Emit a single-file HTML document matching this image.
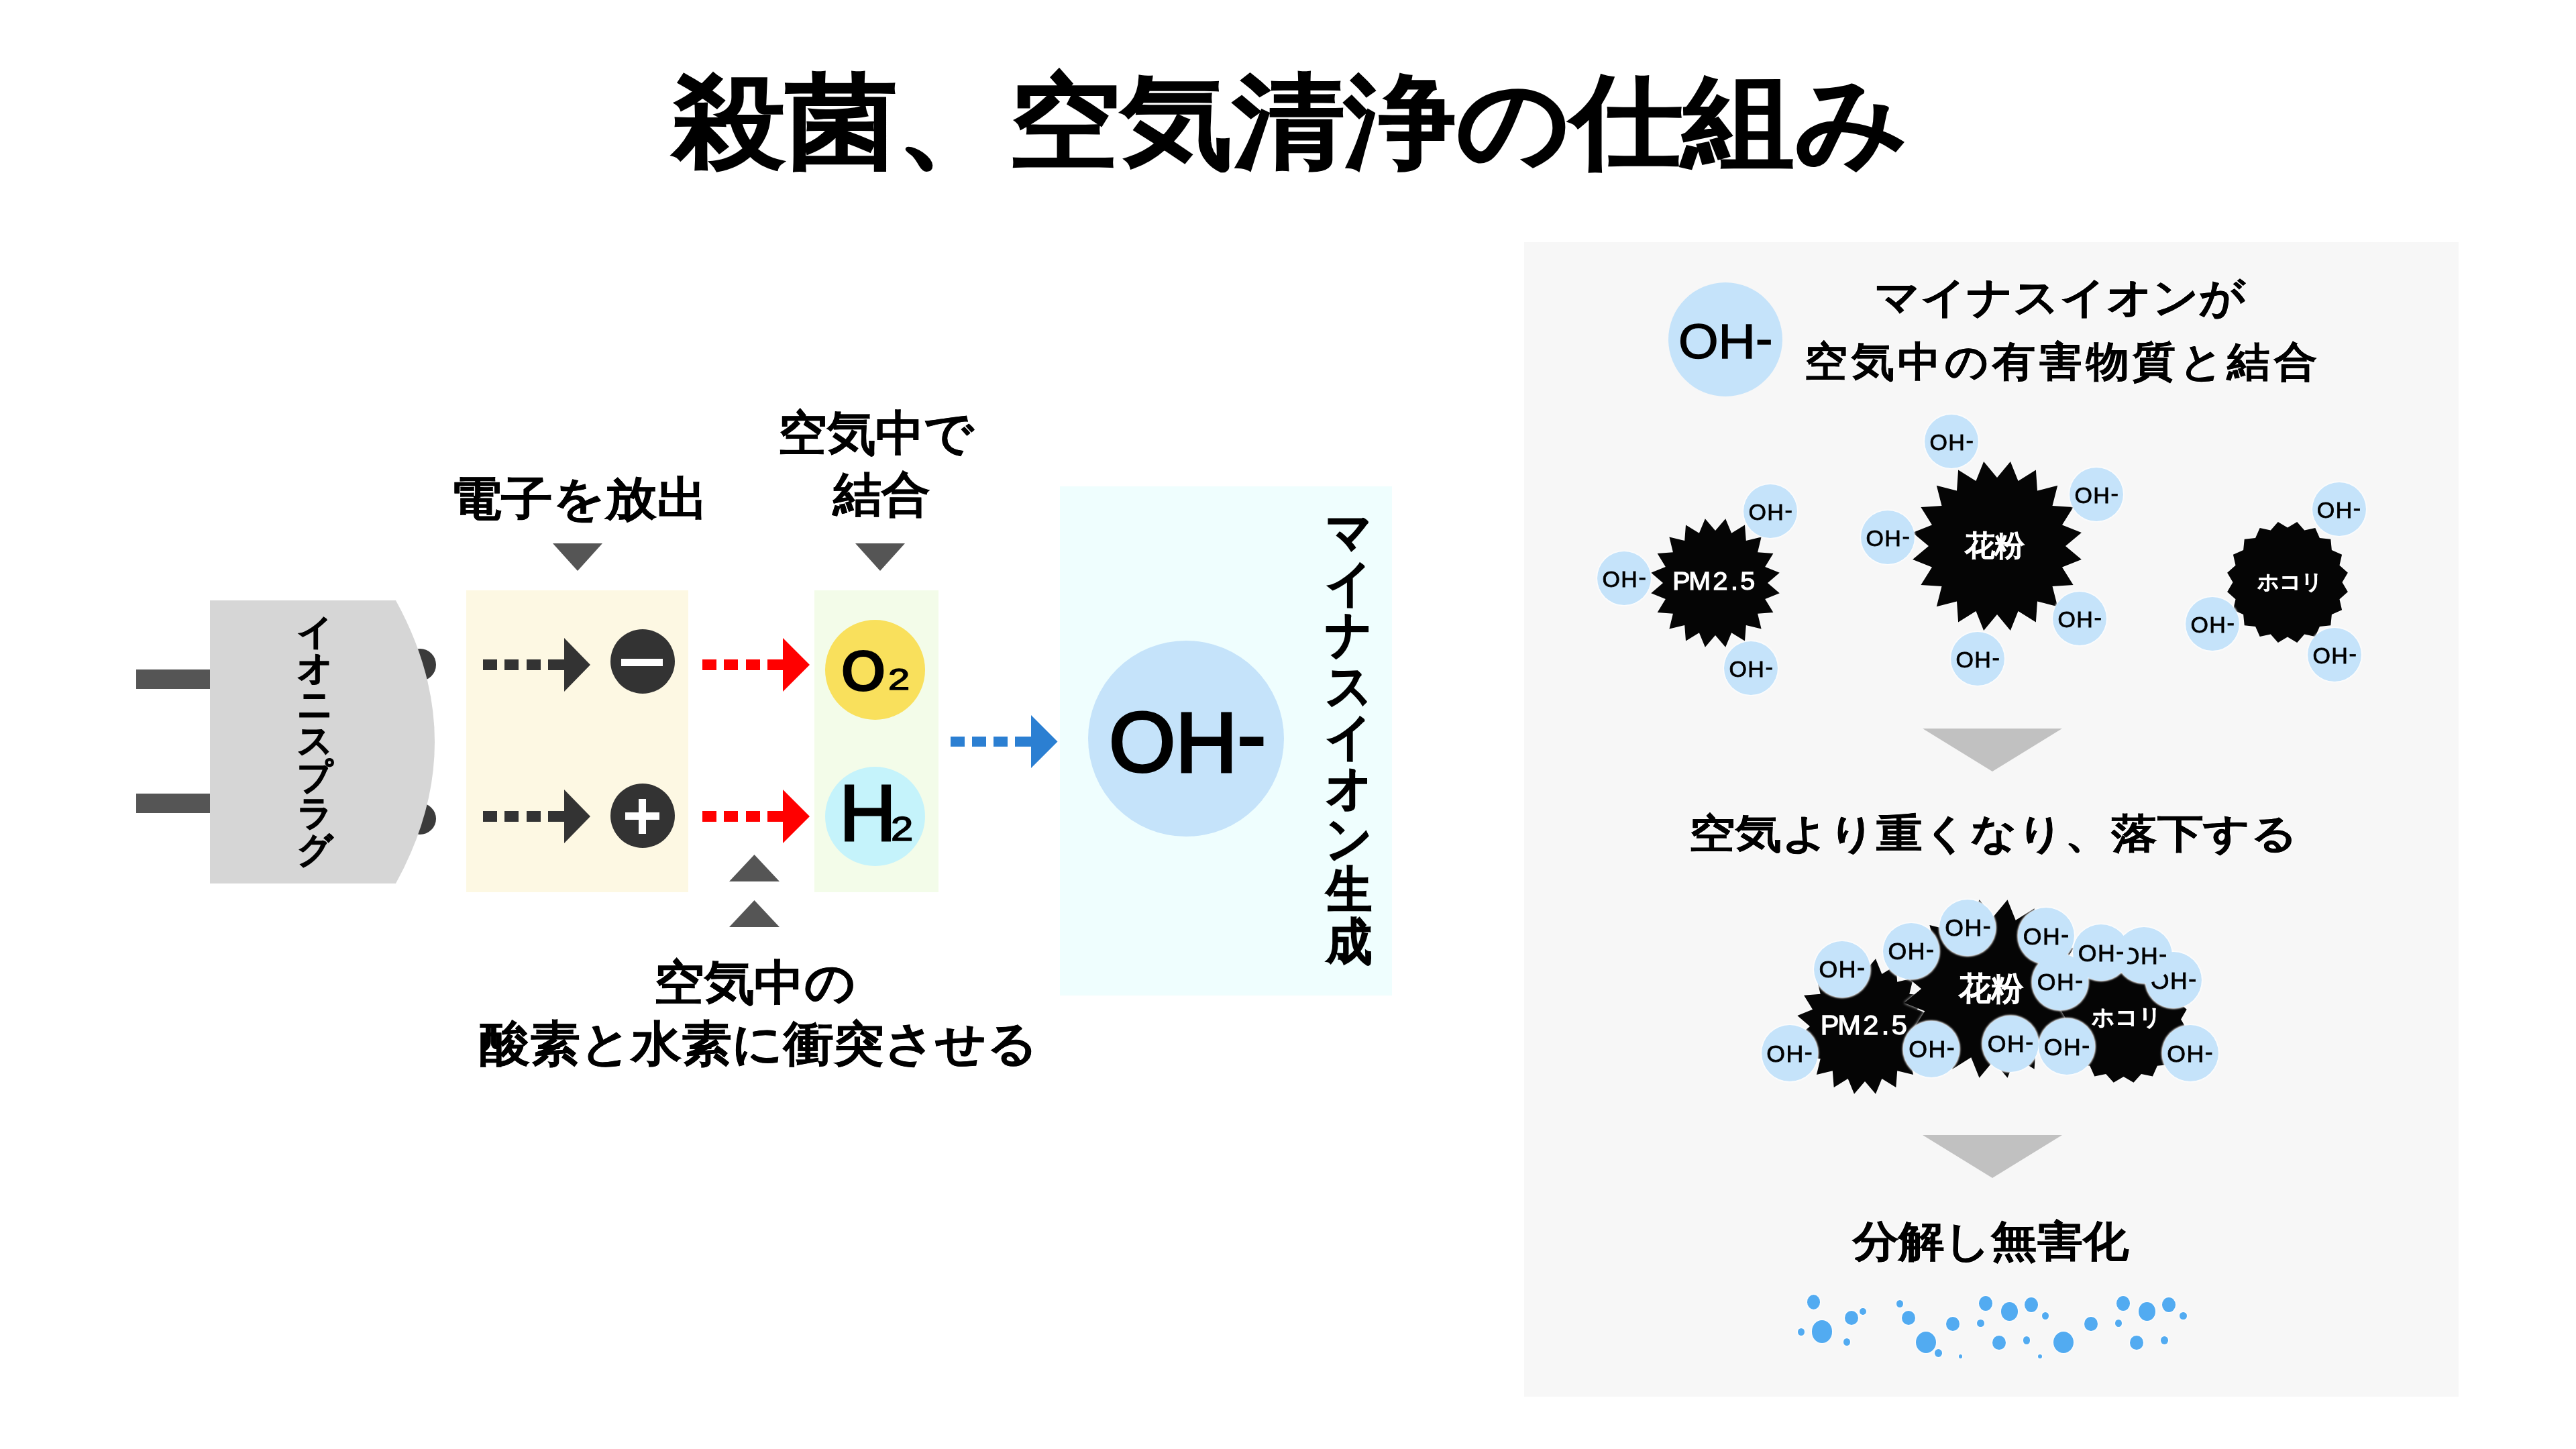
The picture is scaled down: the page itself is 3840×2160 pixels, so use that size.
<!DOCTYPE html><html lang="ja"><head><meta charset="utf-8"><title>殺菌、空気清浄の仕組み</title><style>
*{margin:0;padding:0;box-sizing:border-box}
html,body{width:3840px;height:2160px;overflow:hidden;background:#fff}
body{position:relative;font-family:"Liberation Sans",sans-serif;color:#000}
.a{position:absolute}
.t{position:absolute;white-space:nowrap;line-height:1;font-weight:bold;transform-origin:0 0}
.c{text-align:center}
.b{-webkit-text-stroke:2px #000}
.b1{-webkit-text-stroke:0.5px #000}
.m{-webkit-text-stroke:0.6px #000}
.gl{text-shadow:0 0 4px #fff,0 0 4px #fff}
.v{white-space:normal;word-break:break-all}
</style></head><body>
<div id="title" class="t b gl" style="left:1004.0px;top:104.5px;transform:scale(0.9924,0.9075);font-size:168px">殺菌、空気清浄の仕組み</div>
<div class="a" style="left:203px;top:998px;width:112px;height:29px;background:#555"></div>
<div class="a" style="left:203px;top:1183px;width:112px;height:29px;background:#555"></div>
<div class="a" style="left:602px;top:967px;width:48px;height:48px;border-radius:50%;background:#3b3b3b"></div>
<div class="a" style="left:602px;top:1197px;width:48px;height:47px;border-radius:50%;background:#3b3b3b"></div>
<svg class="a" style="left:0;top:0" width="700" height="1400" viewBox="0 0 700 1400"><path d="M313 895 L590 895 Q706 1106 590 1317 L313 1317 Z" fill="#d6d6d6"/></svg>
<div id="plug" class="t c v" style="left:442.3px;top:914.7px;transform:scale(1.0004,1.0164);width:54px;font-size:52px;line-height:53.3px;-webkit-text-stroke:1.2px #000">イオニスプラグ</div>
<div class="a" style="left:695px;top:880px;width:331px;height:450px;background:#fdf8e3"></div>
<div class="a" style="left:1214px;top:880px;width:185px;height:450px;background:#f3fce9"></div>
<div class="a" style="left:1580px;top:725px;width:495px;height:759px;background:#effefe"></div>
<div class="a" style="left:720.0px;top:983.0px;width:21.0px;height:16px;background:#333"></div><div class="a" style="left:752.3px;top:983.0px;width:21.0px;height:16px;background:#333"></div><div class="a" style="left:784.6px;top:983.0px;width:21.0px;height:16px;background:#333"></div><div class="a" style="left:816.9px;top:983.0px;width:25.1px;height:16px;background:#333"></div><svg class="a" style="left:841.0px;top:951.0px" width="39.0" height="80.0"><polygon points="0,0 39.0,40.0 0,80.0" fill="#333"/></svg>
<div class="a" style="left:720.0px;top:1209.0px;width:21.0px;height:16px;background:#333"></div><div class="a" style="left:752.3px;top:1209.0px;width:21.0px;height:16px;background:#333"></div><div class="a" style="left:784.6px;top:1209.0px;width:21.0px;height:16px;background:#333"></div><div class="a" style="left:816.9px;top:1209.0px;width:25.1px;height:16px;background:#333"></div><svg class="a" style="left:841.0px;top:1177.0px" width="39.0" height="80.0"><polygon points="0,0 39.0,40.0 0,80.0" fill="#333"/></svg>
<div class="a" style="left:1047.0px;top:983.0px;width:21.0px;height:16px;background:#f00"></div><div class="a" style="left:1079.3px;top:983.0px;width:21.0px;height:16px;background:#f00"></div><div class="a" style="left:1111.6px;top:983.0px;width:21.0px;height:16px;background:#f00"></div><div class="a" style="left:1143.9px;top:983.0px;width:24.1px;height:16px;background:#f00"></div><svg class="a" style="left:1167.0px;top:951.0px" width="40.0" height="80.0"><polygon points="0,0 40.0,40.0 0,80.0" fill="#f00"/></svg>
<div class="a" style="left:1047.0px;top:1209.0px;width:21.0px;height:16px;background:#f00"></div><div class="a" style="left:1079.3px;top:1209.0px;width:21.0px;height:16px;background:#f00"></div><div class="a" style="left:1111.6px;top:1209.0px;width:21.0px;height:16px;background:#f00"></div><div class="a" style="left:1143.9px;top:1209.0px;width:24.1px;height:16px;background:#f00"></div><svg class="a" style="left:1167.0px;top:1177.0px" width="40.0" height="80.0"><polygon points="0,0 40.0,40.0 0,80.0" fill="#f00"/></svg>
<div class="a" style="left:1416.5px;top:1097.5px;width:21.0px;height:15px;background:#2b7fd2"></div><div class="a" style="left:1448.6px;top:1097.5px;width:21.0px;height:15px;background:#2b7fd2"></div><div class="a" style="left:1480.7px;top:1097.5px;width:21.0px;height:15px;background:#2b7fd2"></div><div class="a" style="left:1512.8px;top:1097.5px;width:25.2px;height:15px;background:#2b7fd2"></div><svg class="a" style="left:1537.0px;top:1065.5px" width="39.5" height="79.0"><polygon points="0,0 39.5,39.5 0,79.0" fill="#2b7fd2"/></svg>
<div class="a" style="left:910px;top:938px;width:96px;height:96px;border-radius:50%;background:#333"></div>
<div class="a" style="left:926px;top:981.5px;width:62px;height:11.5px;background:#fff"></div>
<div class="a" style="left:910px;top:1168px;width:96px;height:96px;border-radius:50%;background:#333"></div>
<div class="a" style="left:932px;top:1211px;width:51px;height:11px;background:#fff"></div>
<div class="a" style="left:952px;top:1191px;width:10.5px;height:52px;background:#fff"></div>
<div class="a" style="left:1230px;top:924px;width:149px;height:149px;border-radius:50%;background:#f9e05c"></div>
<div class="a" style="left:1230px;top:1143px;width:149px;height:148px;border-radius:50%;background:#c5f3fb"></div>
<div id="o2o" class="t" style="left:1252.5px;top:956.4px;transform:scale(1.0387,1.0433);font-size:84px">O</div>
<div id="o2n" class="t" style="left:1324.4px;top:990.2px;transform:scale(1.2540,0.9706);font-size:46px;font-weight:normal;-webkit-text-stroke:1.5px #000">2</div>
<div id="h2h" class="t" style="left:1250.5px;top:1152.9px;transform:scale(1.0079,1.0113);font-size:117px;font-weight:normal;-webkit-text-stroke:3px #000">H</div>
<div id="h2n" class="t" style="left:1328.2px;top:1210.9px;transform:scale(1.1934,0.9998);font-size:50px;font-weight:normal;-webkit-text-stroke:1.5px #000">2</div>
<div class="a" style="left:1622px;top:955px;width:292px;height:292px;border-radius:50%;background:#c5e3fa"></div>
<div id="bigoh" class="t" style="left:1652.8px;top:1043.5px;transform:scale(1.0055,0.9937);font-size:127px;font-weight:normal;-webkit-text-stroke:4px #000">OH<span style="position:relative;top:-11px">-</span></div>
<div id="vert" class="t c v" style="left:1975.9px;top:754.7px;transform:scale(0.9465,1.0275);width:74px;font-size:72px;line-height:74.2px;-webkit-text-stroke:1.5px #000">マイナスイオン生成</div>
<div id="denshi" class="t c b1 gl" style="left:552.6px;top:709.9px;transform:scale(1.0335,0.9254);width:600px;font-size:74px">電子を放出</div>
<div id="kuki1" class="t c b1 gl" style="left:1012.6px;top:600.4px;transform:scale(0.9766,0.9541);width:600px;font-size:74px;line-height:96px">空気中で<br><span style="position:relative;left:8px">結合</span></div>
<div id="kuki2" class="t c b1 gl" style="left:715.2px;top:1418.8px;transform:scale(1.0110,0.9595);width:800px;font-size:74px;line-height:95px"><span style="position:relative;left:6px">空気中の</span><br>酸素と水素に衝突させる</div>
<svg class="a" style="left:824.0px;top:810.0px" width="74.0" height="41.0"><polygon points="0,0 74.0,0 37.0,41.0" fill="#555"/></svg>
<svg class="a" style="left:1275.0px;top:810.0px" width="74.0" height="41.0"><polygon points="0,0 74.0,0 37.0,41.0" fill="#555"/></svg>
<svg class="a" style="left:1086.5px;top:1274.0px" width="75.0" height="40.0"><polygon points="0,40.0 75.0,40.0 37.5,0" fill="#555"/></svg>
<svg class="a" style="left:1086.5px;top:1342.0px" width="75.0" height="40.0"><polygon points="0,40.0 75.0,40.0 37.5,0" fill="#555"/></svg>
<div class="a" style="left:2272px;top:361px;width:1393px;height:1721px;background:#f7f7f7"></div>
<div class="a" style="left:2487px;top:421px;width:170px;height:170px;border-radius:50%;background:#c5e3fa"></div>
<div id="smoh" class="t" style="left:2502.0px;top:474.1px;transform:scale(1.0077,0.9439);font-size:76px;font-weight:normal;-webkit-text-stroke:1.5px #000">OH<span style="position:relative;top:-6px">-</span></div>
<div id="pl1" class="t b1 gl" style="left:2793.7px;top:412.0px;transform:scale(0.9604,0.8972);font-size:70px">マイナスイオンが</div>
<div id="pl2" class="t b1 gl" style="left:2690.0px;top:508.2px;transform:scale(0.9160,0.8741);font-size:70px;letter-spacing:6px">空気中の有害物質と結合</div>
<svg class="a" style="left:2454px;top:766px;filter:drop-shadow(0 0 2px #fff)" width="206" height="206" viewBox="2454 766 206 206"><polygon points="2572.2,773.2 2581.1,794.8 2601.0,782.6 2602.8,805.9 2625.6,800.4 2620.1,823.2 2643.4,825.0 2631.2,844.9 2652.8,853.8 2635.0,869.0 2652.8,884.2 2631.2,893.1 2643.4,913.0 2620.1,914.8 2625.6,937.6 2602.8,932.1 2601.0,955.4 2581.1,943.2 2572.2,964.8 2557.0,947.0 2541.8,964.8 2532.9,943.2 2513.0,955.4 2511.2,932.1 2488.4,937.6 2493.9,914.8 2470.6,913.0 2482.8,893.1 2461.2,884.2 2479.0,869.0 2461.2,853.8 2482.8,844.9 2470.6,825.0 2493.9,823.2 2488.4,800.4 2511.2,805.9 2513.0,782.6 2532.9,794.8 2541.8,773.2 2557.0,791.0" fill="#050505"/></svg>
<div id="pm1" class="t c" style="left:2441.7px;top:847.3px;transform:scale(1.1267,1.0760);width:200px;font-size:35px;color:#fff;font-weight:normal;-webkit-text-stroke:1.2px #fff">P<span style="margin-left:-2px">M</span><span style="margin-left:3px">2</span><span style="margin-left:4px">.</span><span style="margin-left:3px">5</span></div>
<div class="a" style="left:0;top:0;width:3840px;height:2160px;filter:drop-shadow(0 0 1.5px #fff) drop-shadow(0 0 1px #fff)">
<div class="a" style="left:2599.0px;top:722.0px;width:80.0px;height:80.0px;border-radius:50%;background:#c5e3fa"></div><div class="t c" style="left:2599.8px;top:746.4px;width:80.0px;font-size:34.0px;font-weight:normal;line-height:34.0px;letter-spacing:1.5px;-webkit-text-stroke:0.8px #000">OH<span style="position:relative;top:-3px">-</span></div>
<div class="a" style="left:2381.0px;top:822.0px;width:80.0px;height:80.0px;border-radius:50%;background:#c5e3fa"></div><div class="t c" style="left:2381.8px;top:846.4px;width:80.0px;font-size:34.0px;font-weight:normal;line-height:34.0px;letter-spacing:1.5px;-webkit-text-stroke:0.8px #000">OH<span style="position:relative;top:-3px">-</span></div>
<div class="a" style="left:2570.0px;top:955.6px;width:80.0px;height:80.0px;border-radius:50%;background:#c5e3fa"></div><div class="t c" style="left:2570.8px;top:980.0px;width:80.0px;font-size:34.0px;font-weight:normal;line-height:34.0px;letter-spacing:1.5px;-webkit-text-stroke:0.8px #000">OH<span style="position:relative;top:-3px">-</span></div>
</div>
<svg class="a" style="left:2843px;top:680px;filter:drop-shadow(0 0 2px #fff)" width="267" height="267" viewBox="2843 680 267 267"><polygon points="2996.9,688.1 3008.5,717.0 3034.9,700.4 3037.0,731.5 3067.2,723.8 3059.5,754.0 3090.6,756.1 3074.0,782.5 3102.9,794.1 3079.0,814.0 3102.9,833.9 3074.0,845.5 3090.6,871.9 3059.5,874.0 3067.2,904.2 3037.0,896.5 3034.9,927.6 3008.5,911.0 2996.9,939.9 2977.0,916.0 2957.1,939.9 2945.5,911.0 2919.1,927.6 2917.0,896.5 2886.8,904.2 2894.5,874.0 2863.4,871.9 2880.0,845.5 2851.1,833.9 2875.0,814.0 2851.1,794.1 2880.0,782.5 2863.4,756.1 2894.5,754.0 2886.8,723.8 2917.0,731.5 2919.1,700.4 2945.5,717.0 2957.1,688.1 2977.0,712.0" fill="#050505"/></svg>
<div id="kf1" class="t c" style="left:2875.5px;top:792.3px;transform:scale(0.9746,0.9333);width:200px;font-size:46px;color:#fff;-webkit-text-stroke:0.5px #fff">花粉</div>
<div class="a" style="left:0;top:0;width:3840px;height:2160px;filter:drop-shadow(0 0 1.5px #fff) drop-shadow(0 0 1px #fff)">
<div class="a" style="left:2869.0px;top:618.0px;width:80.0px;height:80.0px;border-radius:50%;background:#c5e3fa"></div><div class="t c" style="left:2869.8px;top:642.4px;width:80.0px;font-size:34.0px;font-weight:normal;line-height:34.0px;letter-spacing:1.5px;-webkit-text-stroke:0.8px #000">OH<span style="position:relative;top:-3px">-</span></div>
<div class="a" style="left:3085.0px;top:697.0px;width:80.0px;height:80.0px;border-radius:50%;background:#c5e3fa"></div><div class="t c" style="left:3085.8px;top:721.4px;width:80.0px;font-size:34.0px;font-weight:normal;line-height:34.0px;letter-spacing:1.5px;-webkit-text-stroke:0.8px #000">OH<span style="position:relative;top:-3px">-</span></div>
<div class="a" style="left:2774.0px;top:761.0px;width:80.0px;height:80.0px;border-radius:50%;background:#c5e3fa"></div><div class="t c" style="left:2774.8px;top:785.4px;width:80.0px;font-size:34.0px;font-weight:normal;line-height:34.0px;letter-spacing:1.5px;-webkit-text-stroke:0.8px #000">OH<span style="position:relative;top:-3px">-</span></div>
<div class="a" style="left:3060.0px;top:882.0px;width:80.0px;height:80.0px;border-radius:50%;background:#c5e3fa"></div><div class="t c" style="left:3060.8px;top:906.4px;width:80.0px;font-size:34.0px;font-weight:normal;line-height:34.0px;letter-spacing:1.5px;-webkit-text-stroke:0.8px #000">OH<span style="position:relative;top:-3px">-</span></div>
<div class="a" style="left:2908.0px;top:942.0px;width:80.0px;height:80.0px;border-radius:50%;background:#c5e3fa"></div><div class="t c" style="left:2908.8px;top:966.4px;width:80.0px;font-size:34.0px;font-weight:normal;line-height:34.0px;letter-spacing:1.5px;-webkit-text-stroke:0.8px #000">OH<span style="position:relative;top:-3px">-</span></div>
</div>
<svg class="a" style="left:3313px;top:771px;filter:drop-shadow(0 0 2px #fff)" width="194" height="194" viewBox="3313 771 194 194"><polygon points="3424.2,778.1 3435.2,790.5 3451.3,786.9 3457.9,802.1 3474.3,803.7 3475.9,820.1 3491.1,826.7 3487.5,842.8 3499.9,853.8 3491.5,868.0 3499.9,882.2 3487.5,893.2 3491.1,909.3 3475.9,915.9 3474.3,932.3 3457.9,933.9 3451.3,949.1 3435.2,945.5 3424.2,957.9 3410.0,949.5 3395.8,957.9 3384.8,945.5 3368.7,949.1 3362.1,933.9 3345.7,932.3 3344.1,915.9 3328.9,909.3 3332.5,893.2 3320.1,882.2 3328.5,868.0 3320.1,853.8 3332.5,842.8 3328.9,826.7 3344.1,820.1 3345.7,803.7 3362.1,802.1 3368.7,786.9 3384.8,790.5 3395.8,778.1 3410.0,786.5" fill="#050505"/></svg>
<div id="hk1" class="t c" style="left:3309.2px;top:851.5px;transform:scale(1.0511,1.0215);width:200px;font-size:30px;color:#fff;-webkit-text-stroke:0.5px #fff">ホコリ</div>
<div class="a" style="left:0;top:0;width:3840px;height:2160px;filter:drop-shadow(0 0 1.5px #fff) drop-shadow(0 0 1px #fff)">
<div class="a" style="left:3446.5px;top:718.5px;width:80.0px;height:80.0px;border-radius:50%;background:#c5e3fa"></div><div class="t c" style="left:3447.2px;top:742.9px;width:80.0px;font-size:34.0px;font-weight:normal;line-height:34.0px;letter-spacing:1.5px;-webkit-text-stroke:0.8px #000">OH<span style="position:relative;top:-3px">-</span></div>
<div class="a" style="left:3258.0px;top:889.6px;width:80.0px;height:80.0px;border-radius:50%;background:#c5e3fa"></div><div class="t c" style="left:3258.8px;top:914.0px;width:80.0px;font-size:34.0px;font-weight:normal;line-height:34.0px;letter-spacing:1.5px;-webkit-text-stroke:0.8px #000">OH<span style="position:relative;top:-3px">-</span></div>
<div class="a" style="left:3440.0px;top:936.0px;width:80.0px;height:80.0px;border-radius:50%;background:#c5e3fa"></div><div class="t c" style="left:3440.8px;top:960.4px;width:80.0px;font-size:34.0px;font-weight:normal;line-height:34.0px;letter-spacing:1.5px;-webkit-text-stroke:0.8px #000">OH<span style="position:relative;top:-3px">-</span></div>
</div>
<svg class="a" style="left:2866.0px;top:1086.0px" width="208.0" height="64.0"><polygon points="0,0 208.0,0 104.0,64.0" fill="#c1c1c1"/></svg>
<svg class="a" style="left:2866.0px;top:1692.0px" width="208.0" height="64.0"><polygon points="0,0 208.0,0 104.0,64.0" fill="#c1c1c1"/></svg>
<div id="rakka" class="t b1 gl" style="left:2518.0px;top:1211.5px;transform:scale(0.9825,0.8588);font-size:70px">空気より重くなり、落下する</div>
<div id="bunkai" class="t b1 gl" style="left:2762.1px;top:1819.1px;transform:scale(0.9738,0.8980);font-size:70px">分解し無害化</div>
<svg class="a" style="left:2672px;top:1422px;filter:drop-shadow(0 0 2px #fff)" width="216" height="216" viewBox="2672 1422 216 216"><polygon points="2796.0,1429.3 2805.3,1452.0 2826.3,1439.1 2828.2,1463.7 2852.1,1457.9 2846.3,1481.8 2870.9,1483.7 2858.0,1504.7 2880.7,1514.0 2862.0,1530.0 2880.7,1546.0 2858.0,1555.3 2870.9,1576.3 2846.3,1578.2 2852.1,1602.1 2828.2,1596.3 2826.3,1620.9 2805.3,1608.0 2796.0,1630.7 2780.0,1612.0 2764.0,1630.7 2754.7,1608.0 2733.7,1620.9 2731.8,1596.3 2707.9,1602.1 2713.7,1578.2 2689.1,1576.3 2702.0,1555.3 2679.3,1546.0 2698.0,1530.0 2679.3,1514.0 2702.0,1504.7 2689.1,1483.7 2713.7,1481.8 2707.9,1457.9 2731.8,1463.7 2733.7,1439.1 2754.7,1452.0 2764.0,1429.3 2780.0,1448.0" fill="#050505"/></svg>
<svg class="a" style="left:2831px;top:1333px;filter:drop-shadow(0 0 2px #fff)" width="281" height="281" viewBox="2831 1333 281 281"><polygon points="2992.5,1341.2 3004.7,1371.8 3032.6,1354.2 3034.7,1387.0 3066.6,1378.9 3058.5,1410.8 3091.3,1412.9 3073.7,1440.8 3104.3,1453.0 3079.0,1474.0 3104.3,1495.0 3073.7,1507.2 3091.3,1535.1 3058.5,1537.2 3066.6,1569.1 3034.7,1561.0 3032.6,1593.8 3004.7,1576.2 2992.5,1606.8 2971.5,1581.5 2950.5,1606.8 2938.3,1576.2 2910.4,1593.8 2908.3,1561.0 2876.4,1569.1 2884.5,1537.2 2851.7,1535.1 2869.3,1507.2 2838.7,1495.0 2864.0,1474.0 2838.7,1453.0 2869.3,1440.8 2851.7,1412.9 2884.5,1410.8 2876.4,1378.9 2908.3,1387.0 2910.4,1354.2 2938.3,1371.8 2950.5,1341.2 2971.5,1366.5" fill="#050505"/></svg>
<svg class="a" style="left:3064px;top:1418px;filter:drop-shadow(0 0 2px #fff)" width="202" height="202" viewBox="3064 1418 202 202"><polygon points="3180.5,1425.5 3192.0,1438.3 3208.9,1434.7 3215.9,1450.4 3233.0,1452.2 3234.8,1469.3 3250.5,1476.3 3246.9,1493.2 3259.7,1504.7 3251.1,1519.6 3259.7,1534.5 3246.9,1546.0 3250.5,1562.9 3234.8,1569.9 3233.0,1587.0 3215.9,1588.8 3208.9,1604.5 3192.0,1600.9 3180.5,1613.7 3165.6,1605.1 3150.7,1613.7 3139.2,1600.9 3122.3,1604.5 3115.3,1588.8 3098.2,1587.0 3096.4,1569.9 3080.7,1562.9 3084.3,1546.0 3071.5,1534.5 3080.1,1519.6 3071.5,1504.7 3084.3,1493.2 3080.7,1476.3 3096.4,1469.3 3098.2,1452.2 3115.3,1450.4 3122.3,1434.7 3139.2,1438.3 3150.7,1425.5 3165.6,1434.1" fill="#050505"/></svg>
<div id="pm2" class="t c" style="left:2665.5px;top:1508.6px;transform:scale(1.1224,1.0769);width:200px;font-size:37px;color:#fff;font-weight:normal;-webkit-text-stroke:1.2px #fff">P<span style="margin-left:-2px">M</span><span style="margin-left:3px">2</span><span style="margin-left:4px">.</span><span style="margin-left:3px">5</span></div>
<div id="kf2" class="t c" style="left:2867.8px;top:1450.0px;transform:scale(1.0003,0.9964);width:200px;font-size:48px;color:#fff;-webkit-text-stroke:0.5px #fff">花粉</div>
<div id="hk2" class="t c" style="left:3064.9px;top:1498.7px;transform:scale(1.0589,1.0753);width:200px;font-size:32px;color:#fff;-webkit-text-stroke:0.5px #fff">ホコリ</div>
<div class="a" style="left:0;top:0;width:3840px;height:2160px;filter:drop-shadow(0 0 1.5px #fff) drop-shadow(0 0 1px #fff)">
<div class="a" style="left:2625.5px;top:1528.0px;width:84.0px;height:84.0px;border-radius:50%;background:#c5e3fa"></div><div class="t c" style="left:2626.2px;top:1553.6px;width:84.0px;font-size:35.7px;font-weight:normal;line-height:35.7px;letter-spacing:1.5px;-webkit-text-stroke:0.8px #000">OH<span style="position:relative;top:-3px">-</span></div>
<div class="a" style="left:2703.7px;top:1402.6px;width:84.0px;height:84.0px;border-radius:50%;background:#c5e3fa"></div><div class="t c" style="left:2704.4px;top:1428.2px;width:84.0px;font-size:35.7px;font-weight:normal;line-height:35.7px;letter-spacing:1.5px;-webkit-text-stroke:0.8px #000">OH<span style="position:relative;top:-3px">-</span></div>
<div class="a" style="left:2806.7px;top:1375.5px;width:84.0px;height:84.0px;border-radius:50%;background:#c5e3fa"></div><div class="t c" style="left:2807.4px;top:1401.1px;width:84.0px;font-size:35.7px;font-weight:normal;line-height:35.7px;letter-spacing:1.5px;-webkit-text-stroke:0.8px #000">OH<span style="position:relative;top:-3px">-</span></div>
<div class="a" style="left:2891.4px;top:1340.5px;width:84.0px;height:84.0px;border-radius:50%;background:#c5e3fa"></div><div class="t c" style="left:2892.2px;top:1366.1px;width:84.0px;font-size:35.7px;font-weight:normal;line-height:35.7px;letter-spacing:1.5px;-webkit-text-stroke:0.8px #000">OH<span style="position:relative;top:-3px">-</span></div>
<div class="a" style="left:2837.4px;top:1521.7px;width:84.0px;height:84.0px;border-radius:50%;background:#c5e3fa"></div><div class="t c" style="left:2838.2px;top:1547.3px;width:84.0px;font-size:35.7px;font-weight:normal;line-height:35.7px;letter-spacing:1.5px;-webkit-text-stroke:0.8px #000">OH<span style="position:relative;top:-3px">-</span></div>
<div class="a" style="left:3008.0px;top:1353.0px;width:84.0px;height:84.0px;border-radius:50%;background:#c5e3fa"></div><div class="t c" style="left:3008.8px;top:1378.6px;width:84.0px;font-size:35.7px;font-weight:normal;line-height:35.7px;letter-spacing:1.5px;-webkit-text-stroke:0.8px #000">OH<span style="position:relative;top:-3px">-</span></div>
<div class="a" style="left:3198.0px;top:1419.0px;width:84.0px;height:84.0px;border-radius:50%;background:#c5e3fa"></div><div class="t c" style="left:3198.8px;top:1444.6px;width:84.0px;font-size:35.7px;font-weight:normal;line-height:35.7px;letter-spacing:1.5px;-webkit-text-stroke:0.8px #000">OH<span style="position:relative;top:-3px">-</span></div>
<div class="a" style="left:3154.0px;top:1382.0px;width:84.0px;height:84.0px;border-radius:50%;background:#c5e3fa"></div><div class="t c" style="left:3154.8px;top:1407.6px;width:84.0px;font-size:35.7px;font-weight:normal;line-height:35.7px;letter-spacing:1.5px;-webkit-text-stroke:0.8px #000">OH<span style="position:relative;top:-3px">-</span></div>
<div class="a" style="left:3090.0px;top:1378.0px;width:84.0px;height:84.0px;border-radius:50%;background:#c5e3fa"></div><div class="t c" style="left:3090.8px;top:1403.6px;width:84.0px;font-size:35.7px;font-weight:normal;line-height:35.7px;letter-spacing:1.5px;-webkit-text-stroke:0.8px #000">OH<span style="position:relative;top:-3px">-</span></div>
<div class="a" style="left:3029.0px;top:1421.5px;width:84.0px;height:84.0px;border-radius:50%;background:#c5e3fa"></div><div class="t c" style="left:3029.8px;top:1447.1px;width:84.0px;font-size:35.7px;font-weight:normal;line-height:35.7px;letter-spacing:1.5px;-webkit-text-stroke:0.8px #000">OH<span style="position:relative;top:-3px">-</span></div>
<div class="a" style="left:2955.0px;top:1513.5px;width:84.0px;height:84.0px;border-radius:50%;background:#c5e3fa"></div><div class="t c" style="left:2955.8px;top:1539.1px;width:84.0px;font-size:35.7px;font-weight:normal;line-height:35.7px;letter-spacing:1.5px;-webkit-text-stroke:0.8px #000">OH<span style="position:relative;top:-3px">-</span></div>
<div class="a" style="left:3039.0px;top:1518.0px;width:84.0px;height:84.0px;border-radius:50%;background:#c5e3fa"></div><div class="t c" style="left:3039.8px;top:1543.6px;width:84.0px;font-size:35.7px;font-weight:normal;line-height:35.7px;letter-spacing:1.5px;-webkit-text-stroke:0.8px #000">OH<span style="position:relative;top:-3px">-</span></div>
<div class="a" style="left:3222.6px;top:1528.0px;width:84.0px;height:84.0px;border-radius:50%;background:#c5e3fa"></div><div class="t c" style="left:3223.3px;top:1553.6px;width:84.0px;font-size:35.7px;font-weight:normal;line-height:35.7px;letter-spacing:1.5px;-webkit-text-stroke:0.8px #000">OH<span style="position:relative;top:-3px">-</span></div>
</div>
<div class="a" style="left:2694.0px;top:1930.1px;width:19.3px;height:21.7px;border-radius:50%;background:#52abf1;box-shadow:0 0 2px 1px #fff"></div>
<div class="a" style="left:2700.7px;top:1968.0px;width:30.4px;height:33.5px;border-radius:50%;background:#52abf1;box-shadow:0 0 2px 1px #fff"></div>
<div class="a" style="left:2679.8px;top:1979.7px;width:10.0px;height:11.0px;border-radius:50%;background:#52abf1;box-shadow:0 0 2px 1px #fff"></div>
<div class="a" style="left:2750.0px;top:1954.0px;width:20.0px;height:21.0px;border-radius:50%;background:#52abf1;box-shadow:0 0 2px 1px #fff"></div>
<div class="a" style="left:2772.4px;top:1949.5px;width:10.0px;height:10.5px;border-radius:50%;background:#52abf1;box-shadow:0 0 2px 1px #fff"></div>
<div class="a" style="left:2747.9px;top:1995.0px;width:10.5px;height:11.0px;border-radius:50%;background:#52abf1;box-shadow:0 0 2px 1px #fff"></div>
<div class="a" style="left:2826.7px;top:1938.4px;width:10.0px;height:11.0px;border-radius:50%;background:#52abf1;box-shadow:0 0 2px 1px #fff"></div>
<div class="a" style="left:2834.8px;top:1954.0px;width:20.0px;height:21.0px;border-radius:50%;background:#52abf1;box-shadow:0 0 2px 1px #fff"></div>
<div class="a" style="left:2855.8px;top:1984.5px;width:30.0px;height:32.0px;border-radius:50%;background:#52abf1;box-shadow:0 0 2px 1px #fff"></div>
<div class="a" style="left:2884.1px;top:2011.2px;width:11.0px;height:11.4px;border-radius:50%;background:#52abf1;box-shadow:0 0 2px 1px #fff"></div>
<div class="a" style="left:2919.9px;top:2019.0px;width:5.6px;height:6.0px;border-radius:50%;background:#52abf1;box-shadow:0 0 2px 1px #fff"></div>
<div class="a" style="left:2901.2px;top:1962.7px;width:20.0px;height:21.0px;border-radius:50%;background:#52abf1;box-shadow:0 0 2px 1px #fff"></div>
<div class="a" style="left:2949.6px;top:1931.9px;width:20.0px;height:21.7px;border-radius:50%;background:#52abf1;box-shadow:0 0 2px 1px #fff"></div>
<div class="a" style="left:2947.2px;top:1966.7px;width:10.5px;height:11.0px;border-radius:50%;background:#52abf1;box-shadow:0 0 2px 1px #fff"></div>
<div class="a" style="left:2982.7px;top:1941.2px;width:25.5px;height:28.0px;border-radius:50%;background:#52abf1;box-shadow:0 0 2px 1px #fff"></div>
<div class="a" style="left:3018.0px;top:1934.4px;width:20.0px;height:21.7px;border-radius:50%;background:#52abf1;box-shadow:0 0 2px 1px #fff"></div>
<div class="a" style="left:3043.9px;top:1955.9px;width:10.5px;height:11.0px;border-radius:50%;background:#52abf1;box-shadow:0 0 2px 1px #fff"></div>
<div class="a" style="left:2969.6px;top:1990.6px;width:20.0px;height:21.7px;border-radius:50%;background:#52abf1;box-shadow:0 0 2px 1px #fff"></div>
<div class="a" style="left:3015.7px;top:1992.3px;width:10.5px;height:11.4px;border-radius:50%;background:#52abf1;box-shadow:0 0 2px 1px #fff"></div>
<div class="a" style="left:3038.2px;top:2019.0px;width:5.6px;height:6.0px;border-radius:50%;background:#52abf1;box-shadow:0 0 2px 1px #fff"></div>
<div class="a" style="left:3061.4px;top:1984.5px;width:30.0px;height:32.0px;border-radius:50%;background:#52abf1;box-shadow:0 0 2px 1px #fff"></div>
<div class="a" style="left:3106.5px;top:1962.6px;width:20.0px;height:21.7px;border-radius:50%;background:#52abf1;box-shadow:0 0 2px 1px #fff"></div>
<div class="a" style="left:3155.0px;top:1931.9px;width:20.0px;height:21.7px;border-radius:50%;background:#52abf1;box-shadow:0 0 2px 1px #fff"></div>
<div class="a" style="left:3152.7px;top:1966.7px;width:10.5px;height:11.0px;border-radius:50%;background:#52abf1;box-shadow:0 0 2px 1px #fff"></div>
<div class="a" style="left:3187.8px;top:1941.2px;width:25.5px;height:28.0px;border-radius:50%;background:#52abf1;box-shadow:0 0 2px 1px #fff"></div>
<div class="a" style="left:3223.3px;top:1934.4px;width:20.0px;height:21.7px;border-radius:50%;background:#52abf1;box-shadow:0 0 2px 1px #fff"></div>
<div class="a" style="left:3249.4px;top:1955.9px;width:10.5px;height:11.0px;border-radius:50%;background:#52abf1;box-shadow:0 0 2px 1px #fff"></div>
<div class="a" style="left:3174.8px;top:1990.6px;width:20.0px;height:21.7px;border-radius:50%;background:#52abf1;box-shadow:0 0 2px 1px #fff"></div>
<div class="a" style="left:3221.2px;top:1992.3px;width:10.5px;height:11.4px;border-radius:50%;background:#52abf1;box-shadow:0 0 2px 1px #fff"></div>
</body></html>
